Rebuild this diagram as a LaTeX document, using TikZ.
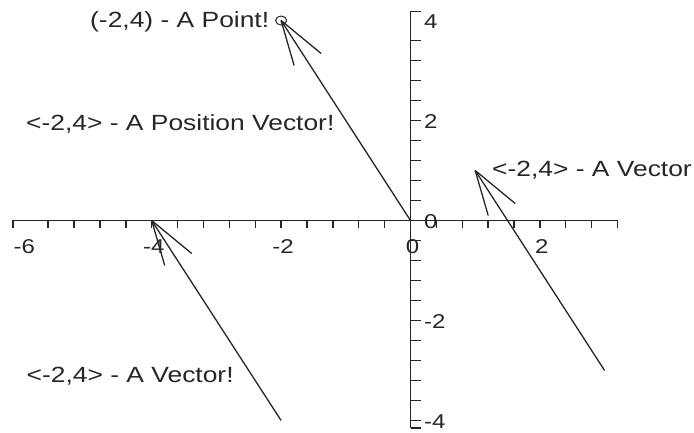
\documentclass[tikz,border=0pt]{standalone}
\usepackage{fontspec}
\usetikzlibrary{shapes.geometric}
\newfontfamily\labfont[FakeStretch=1.2]{Liberation Sans}
\begin{document}
\begin{tikzpicture}[x=1pt,y=-1pt,
  axis/.style={line width=1.5pt, black!85},
  tickmark/.style={line width=1.4pt, black!85},
  vec/.style={line width=1.3pt, black!85},
  barb/.style={line width=1.3pt, black!85},
  ticklab/.style={font=\labfont\fontsize{20}{24}\selectfont, inner sep=0pt, text=black!85},
  txt/.style={font=\labfont\fontsize{22}{26}\selectfont, inner sep=0pt, anchor=base west, text=black!85}]
\useasboundingbox (0,0) rectangle (694,433);
% axes
\coordinate (xl) at (13,220.5);
\coordinate (xr) at (617.5,220.5);
\coordinate (yt) at (410.5,11.5);
\coordinate (yb) at (410.5,428);
\draw[axis] (xl) -- (xr);
\draw[axis] (yt) -- (yb);
% x ticks
\foreach \k in {-14,...,-1,1,2,...,8}
  \draw[tickmark] ({410.5+25.88*\k},220.5) -- ++(0,7);
\draw[tickmark] (xl) -- ++(0,7);
% y ticks
\foreach \k in {-10,...,-1,1,2,...,9}
  \draw[tickmark] (410.5,{220.5-20*\k}) -- ++(10.5,0);
\draw[tickmark] (yt) -- ++(10.5,0);
\draw[tickmark] (yb) -- ++(10.5,0);
% tick labels
\foreach \v/\t in {-6/-6,-4/-4,-2/-2,0/0,2/2}
  \node[ticklab, anchor=base] (xlab\v) at ({412.5+64.7*\v},254) {\t};
\foreach \v/\t in {4/4,2/2,0/0,-2/-2,-4/-4}
  \node[ticklab, anchor=base west] (ylab\v) at (424,{228.8-50*\v}) {\t};
% vectors
\coordinate (O) at (410.5,220.5);
\coordinate (P) at (281.1,20.5);
\coordinate (A1) at (475.2,170.5);
\coordinate (A2) at (604.6,370.5);
\coordinate (B1) at (151.7,220.5);
\coordinate (B2) at (281.1,420.5);
\draw[vec] (O) -- (P);
\draw[barb] (P) -- ++(40,33);
\draw[barb] (P) -- ++(13,45);
\draw[vec] (A2) -- (A1);
\draw[barb] (A1) -- ++(40,33);
\draw[barb] (A1) -- ++(13,45);
\draw[vec] (B2) -- (B1);
\draw[barb] (B1) -- ++(40,33);
\draw[barb] (B1) -- ++(13,45);
% point
\node[ellipse, draw, black!85, minimum width=11pt, minimum height=9pt, inner sep=0pt, line width=1pt] (pt) at (P) {};
% labels
\node[txt] (lp) at (90,27.5) {(-2,4) - A Point!};
\node[txt] (lpv) at (26,130.5) {<-2,4> - A Position Vector!};
\node[txt] (lv1) at (492,176.5) {<-2,4> - A Vector};
\node[txt] (lv2) at (26.5,382) {<-2,4> - A Vector!};
\end{tikzpicture}
\end{document}
